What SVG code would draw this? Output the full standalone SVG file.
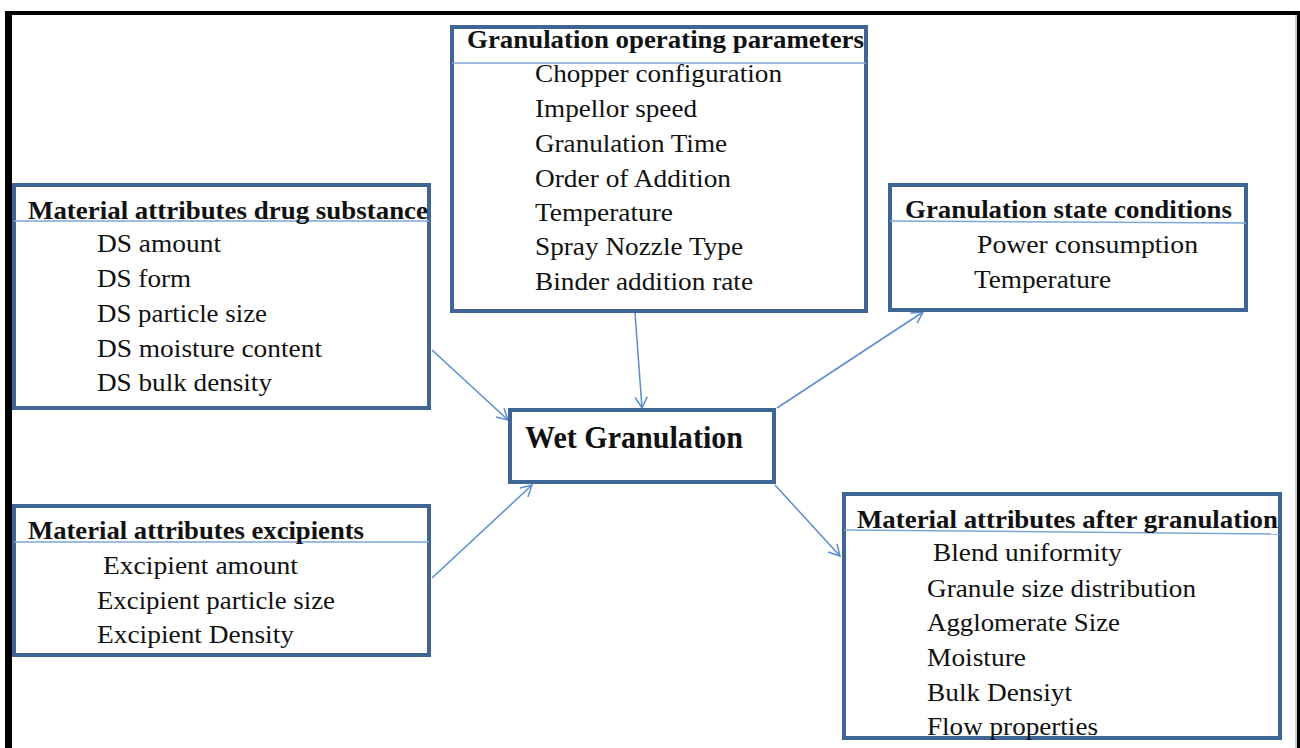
<svg xmlns="http://www.w3.org/2000/svg" width="1300" height="748" viewBox="0 0 1300 748">
<style>
.box{fill:#fff;stroke:#3f6595;stroke-width:4}
.div{stroke:#7ea6d8;stroke-width:1.5;fill:none}
.hd{font-family:"Liberation Serif","Times New Roman",serif;font-weight:bold;font-size:26px;fill:#111}
.it{font-family:"Liberation Serif","Times New Roman",serif;font-size:25px;fill:#111}
.wet{font-family:"Liberation Serif","Times New Roman",serif;font-weight:bold;font-size:31px;fill:#111}
.con line{stroke:#5b8ccf;stroke-width:1.5;marker-end:url(#ah)}
</style>
<defs>
<marker id="ah" markerUnits="userSpaceOnUse" markerWidth="16" markerHeight="16" refX="12" refY="7" orient="auto">
<path d="M1,1 L12,7 L1,13" fill="none" stroke="#5b8ccf" stroke-width="1.5"/>
</marker>
</defs>
<rect x="0" y="0" width="1300" height="748" fill="#fff"/>
<g id="frame">
<rect x="5" y="11" width="7" height="737" fill="#000"/>
<rect x="5" y="11" width="1295" height="4" fill="#000"/>
<rect x="1297" y="11" width="3" height="737" fill="#000"/>
<rect x="1295" y="15" width="2" height="733" fill="#ccc"/>
</g>
<g class="con" id="connectors">
<line x1="635" y1="313" x2="642" y2="408"/>
<line x1="432" y1="350" x2="508" y2="420"/>
<line x1="432" y1="578" x2="532" y2="485"/>
<line x1="777" y1="408" x2="923" y2="312"/>
<line x1="775" y1="485" x2="840" y2="556"/>
</g>
<g id="gop">
<rect class="box" x="452" y="27" width="414" height="284"/>
<line class="div" x1="452" y1="63" x2="866" y2="63"/>
<text class="hd" x="467" y="48" textLength="397" lengthAdjust="spacingAndGlyphs">Granulation operating parameters</text>
<text class="it" x="535" y="82" textLength="247" lengthAdjust="spacingAndGlyphs">Chopper configuration</text>
<text class="it" x="535" y="117" textLength="162" lengthAdjust="spacingAndGlyphs">Impellor speed</text>
<text class="it" x="535" y="152" textLength="192" lengthAdjust="spacingAndGlyphs">Granulation Time</text>
<text class="it" x="535" y="187" textLength="196" lengthAdjust="spacingAndGlyphs">Order of Addition</text>
<text class="it" x="535" y="221" textLength="138" lengthAdjust="spacingAndGlyphs">Temperature</text>
<text class="it" x="535" y="255" textLength="208" lengthAdjust="spacingAndGlyphs">Spray Nozzle Type</text>
<text class="it" x="535" y="290" textLength="218" lengthAdjust="spacingAndGlyphs">Binder addition rate</text>
</g>
<g id="drug">
<rect class="box" x="14" y="185" width="415" height="223"/>
<line class="div" x1="14" y1="221" x2="429" y2="221"/>
<text class="hd" x="28" y="219" textLength="400" lengthAdjust="spacingAndGlyphs">Material attributes drug substance</text>
<text class="it" x="97" y="252" textLength="124" lengthAdjust="spacingAndGlyphs">DS amount</text>
<text class="it" x="97" y="287" textLength="94" lengthAdjust="spacingAndGlyphs">DS form</text>
<text class="it" x="97" y="322" textLength="170" lengthAdjust="spacingAndGlyphs">DS particle size</text>
<text class="it" x="97" y="357" textLength="225" lengthAdjust="spacingAndGlyphs">DS moisture content</text>
<text class="it" x="97" y="391" textLength="175" lengthAdjust="spacingAndGlyphs">DS bulk density</text>
</g>
<g id="state">
<rect class="box" x="890" y="185" width="356" height="125"/>
<line class="div" x1="890" y1="221" x2="1246" y2="223"/>
<text class="hd" x="905" y="218" textLength="327" lengthAdjust="spacingAndGlyphs">Granulation state conditions</text>
<text class="it" x="977" y="253" textLength="221" lengthAdjust="spacingAndGlyphs">Power consumption</text>
<text class="it" x="974" y="288" textLength="137" lengthAdjust="spacingAndGlyphs">Temperature</text>
</g>
<g id="wet">
<rect class="box" x="510" y="410" width="264" height="72" stroke-width="5"/>
<text class="wet" x="525" y="448" textLength="218" lengthAdjust="spacingAndGlyphs">Wet Granulation</text>
</g>
<g id="excip">
<rect class="box" x="14" y="506" width="415" height="149"/>
<line class="div" x1="14" y1="542" x2="429" y2="542"/>
<text class="hd" x="28" y="539" textLength="336" lengthAdjust="spacingAndGlyphs">Material attributes excipients</text>
<text class="it" x="103" y="574" textLength="195" lengthAdjust="spacingAndGlyphs">Excipient amount</text>
<text class="it" x="97" y="609" textLength="238" lengthAdjust="spacingAndGlyphs">Excipient particle size</text>
<text class="it" x="97" y="643" textLength="197" lengthAdjust="spacingAndGlyphs">Excipient Density</text>
</g>
<g id="after">
<rect class="box" x="844" y="494" width="436" height="244"/>
<line class="div" x1="844" y1="530" x2="1280" y2="534"/>
<text class="hd" x="857" y="528" textLength="421" lengthAdjust="spacingAndGlyphs">Material attributes after granulation</text>
<text class="it" x="933" y="561" textLength="189" lengthAdjust="spacingAndGlyphs">Blend uniformity</text>
<text class="it" x="927" y="597" textLength="269" lengthAdjust="spacingAndGlyphs">Granule size distribution</text>
<text class="it" x="927" y="631" textLength="193" lengthAdjust="spacingAndGlyphs">Agglomerate Size</text>
<text class="it" x="927" y="666" textLength="99" lengthAdjust="spacingAndGlyphs">Moisture</text>
<text class="it" x="927" y="701" textLength="145" lengthAdjust="spacingAndGlyphs">Bulk Densiyt</text>
<text class="it" x="927" y="735" textLength="171" lengthAdjust="spacingAndGlyphs">Flow properties</text>
</g>
</svg>
